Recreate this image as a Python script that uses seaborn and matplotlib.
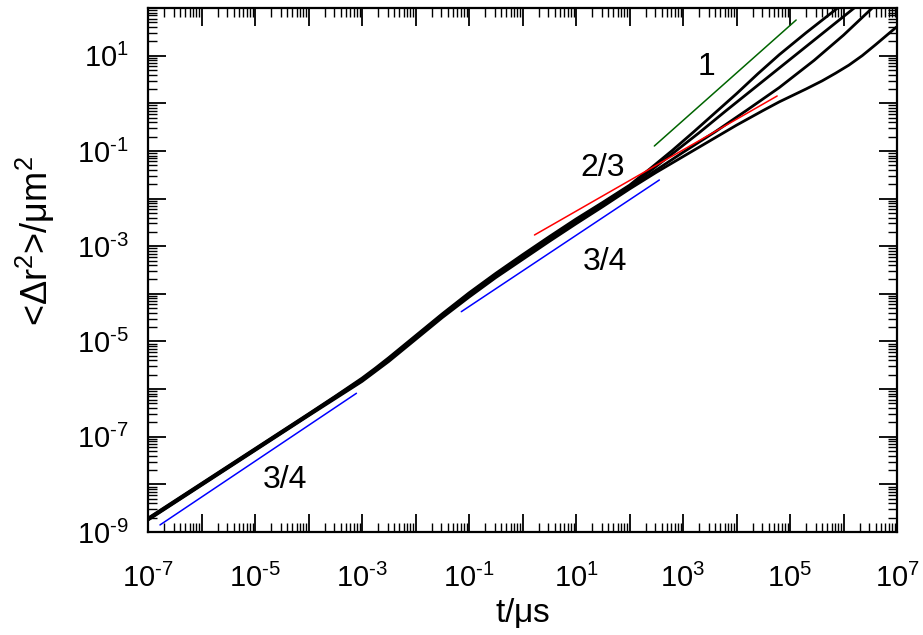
import numpy as np
import pandas as pd
import matplotlib
matplotlib.use("Agg")
import matplotlib.pyplot as plt
import seaborn as sns
from matplotlib.ticker import LogLocator, FuncFormatter, NullFormatter

sns.set_style("ticks")
plt.rcParams["font.family"] = ["Liberation Sans", "DejaVu Sans"]
plt.rcParams["mathtext.fontset"] = "custom"
plt.rcParams["mathtext.rm"] = "Liberation Sans"
plt.rcParams["mathtext.it"] = "Liberation Sans:italic"
plt.rcParams["mathtext.bf"] = "Liberation Sans:bold"
for k in ("text.color", "axes.labelcolor", "xtick.color", "ytick.color", "axes.edgecolor"):
    plt.rcParams[k] = "black"

# ---- data (log10 of t/us and of MSD/um^2) ----
log_t_bundle = [-7, -6, -5, -4, -3.5, -3, -2.75, -2.5, -2.25, -2, -1.5, -1, -0.5, 0, 0.5, 1, 1.5]
msd_a_bundle = [-8.71, -7.98, -7.25, -6.52, -6.15, -5.77, -5.56, -5.34, -5.11, -4.88, -4.42, -3.98, -3.57, -3.18, -2.80, -2.43, -2.08]
msd_b_bundle = [-8.72, -7.99, -7.26, -6.53, -6.16, -5.79, -5.58, -5.36, -5.13, -4.90, -4.44, -4.00, -3.59, -3.21, -2.83, -2.46, -2.10]
msd_c_bundle = [-8.74, -8.01, -7.28, -6.55, -6.18, -5.82, -5.61, -5.39, -5.16, -4.93, -4.47, -4.04, -3.63, -3.25, -2.87, -2.50, -2.14]
msd_e_bundle = [-8.75, -8.02, -7.29, -6.56, -6.20, -5.84, -5.63, -5.42, -5.19, -4.96, -4.50, -4.07, -3.66, -3.28, -2.90, -2.53, -2.17]

log_t_a_tail = [2.0, 2.4, 2.8, 3.2, 3.6, 4.0, 4.4, 4.8, 5.3, 5.8, 6.0]
msd_a_tail = [-1.72, -1.36, -0.99, -0.60, -0.20, 0.20, 0.62, 1.02, 1.48, 1.92, 2.10]
log_t_b_tail = [2.0, 2.4, 2.8, 3.3, 3.8, 4.3, 4.8, 5.3, 5.8, 6.2, 6.4]
msd_b_tail = [-1.74, -1.41, -1.06, -0.62, -0.16, 0.29, 0.74, 1.19, 1.64, 2.00, 2.18]
log_t_c_tail = [2.0, 2.5, 3.0, 3.6, 4.2, 4.8, 5.45, 6.0, 6.5, 6.6]
msd_c_tail = [-1.77, -1.40, -1.03, -0.60, -0.14, 0.33, 0.90, 1.43, 1.96, 2.07]
log_t_e_tail = [2.0, 2.5, 3.0, 3.5, 4.0, 4.5, 4.8, 5.3, 5.6, 5.85, 6.1, 6.35, 6.6, 6.8, 7.0]
msd_e_tail = [-1.80, -1.45, -1.12, -0.79, -0.46, -0.15, 0.03, 0.30, 0.47, 0.63, 0.80, 1.00, 1.23, 1.42, 1.61]

# reference slope lines: (log t start, log t end), (log msd start, log msd end)
slope_lines = {
    "blue_early": ([-6.776, -3.104], [-8.852, -6.088], "#0000ff"),
    "blue_mid": ([-1.144, 2.558], [-4.375, -1.610], "#0000ff"),
    "red": ([0.224, 4.760], [-2.765, 0.153], "#ff0000"),
    "green": ([2.464, 5.115], [-0.897, 1.748], "#006400"),
}

labels_text = ["1", "2/3", "3/4", "3/4"]
labels_pos = [(3.435, 0.76), (1.494, -1.36), (1.55, -3.33), (-4.44, -7.91)]

# ---- build table ----
rows = []
for name, tb, mb, tt, mt in [
    ("A", log_t_bundle, msd_a_bundle, log_t_a_tail, msd_a_tail),
    ("B", log_t_bundle, msd_b_bundle, log_t_b_tail, msd_b_tail),
    ("C", log_t_bundle, msd_c_bundle, log_t_c_tail, msd_c_tail),
    ("E", log_t_bundle, msd_e_bundle, log_t_e_tail, msd_e_tail),
]:
    for lt, lm in zip(list(tb) + list(tt), list(mb) + list(mt)):
        rows.append({"curve": name, "t": 10.0 ** lt, "msd": 10.0 ** lm})
df = pd.DataFrame(rows)

fig = plt.figure(figsize=(9.23, 6.35), dpi=100)
ax = fig.add_axes([148 / 923, 1 - 532 / 635, (897 - 148) / 923, (532 - 8) / 635])

sns.lineplot(data=df, x="t", y="msd", units="curve", estimator=None, sort=False,
             color="black", lw=2.0, ax=ax, legend=False)

for key, (lt, lm, col) in slope_lines.items():
    sl = pd.DataFrame({"t": [10.0 ** v for v in lt], "msd": [10.0 ** v for v in lm]})
    sns.lineplot(data=sl, x="t", y="msd", color=col, lw=1.1, ax=ax, sort=False,
                 estimator=None, legend=False)

for txt, (lx, ly) in zip(labels_text, labels_pos):
    ax.text(10.0 ** lx, 10.0 ** ly, txt, fontsize=23, ha="center", va="center")

ax.set_xscale("log")
ax.set_yscale("log")
ax.set_xlim(1e-7, 1e7)
ax.set_ylim(1e-9, 1e2)

def fmt(v, pos):
    e = int(round(np.log10(v)))
    if e % 2 != 0:
        s = str(e).replace("-", "\u2010")
        return r"$\mathregular{10^{%s}}$" % s
    return ""

for axis in (ax.xaxis, ax.yaxis):
    axis.set_major_locator(LogLocator(base=10, numticks=40))
    axis.set_minor_locator(LogLocator(base=10, subs=np.arange(2, 10), numticks=40))
    axis.set_major_formatter(FuncFormatter(fmt))
    axis.set_minor_formatter(NullFormatter())

ax.tick_params(which="both", direction="in", top=True, right=True, labelsize=21, color="black")
ax.tick_params(which="major", length=13, width=1.3)
ax.tick_params(which="minor", length=6.5, width=1.0)
ax.tick_params(axis="x", which="major", pad=23)
ax.tick_params(axis="y", which="major", pad=14)
for s in ax.spines.values():
    s.set_linewidth(1.6)
    s.set_color("black")

ax.set_xlabel(r"t/$\mathregular{\mu}$s", fontsize=24, labelpad=2)
ax.set_ylabel(r"<$\mathregular{\Delta}$r$^{2}$>/$\mathregular{\mu}$m$^{2}$", fontsize=26)
ax.yaxis.set_label_coords(-0.122, 0.555)

fig.savefig("out.png", dpi=100)
